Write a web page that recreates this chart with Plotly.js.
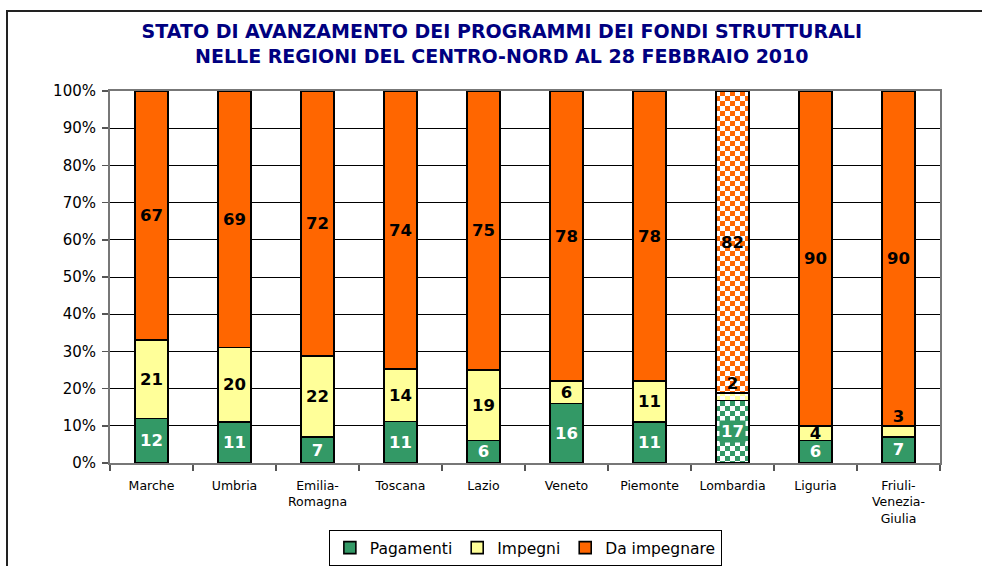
<!DOCTYPE html>
<html>
<head>
<meta charset="utf-8">
<script src="https://cdn.plot.ly/plotly-3.0.1.min.js"></script>
<style>
  html, body { margin: 0; padding: 0; background: #fff; }
  #wrap { position: relative; width: 982px; height: 566px; }
  #frame { position: absolute; left: 6px; top: 10px; width: 976px; height: 556px;
           border-left: 2px solid #222; border-top: 2px solid #222; box-sizing: border-box; pointer-events: none; z-index: 5; }
  #chart { position: absolute; left: 0; top: 0; width: 982px; height: 566px; }
</style>
</head>
<body>
<div id="wrap">
  <div id="chart"></div>
  <div id="frame"></div>
</div>
<script>
const regioni = ['Marche', 'Umbria', 'Emilia-<br>Romagna', 'Toscana', 'Lazio', 'Veneto', 'Piemonte', 'Lombardia', 'Liguria', 'Friuli-<br>Venezia-<br>Giulia'];
const pagamenti = [12, 11, 7, 11, 6, 16, 11, 17, 6, 7];
const impegni = [21, 20, 22, 14, 19, 6, 11, 2, 4, 3];
const daImpegnare = [67, 69, 72, 74, 75, 78, 78, 82, 90, 90];
const retinato = [false, false, false, false, false, false, false, true, false, false];
const yTicks = [0, 10, 20, 30, 40, 50, 60, 70, 80, 90, 100];

const FONT = 'DejaVu Sans, Verdana, sans-serif';
const SMALL = 4; // labels of segments smaller than this sit above the segment
const G = '#339966';

function serie(name, values, color, textColor, labels) {
  return {
    type: 'bar', name: name, x: regioni, y: values,
    text: labels, textposition: 'inside', insidetextanchor: 'middle',
    textangle: 0, constraintext: 'none', cliponaxis: false,
    textfont: { family: FONT, size: 16.5, color: textColor, weight: 'bold' },
    marker: {
      color: color,
      line: { color: '#000', width: 1.6 },
      pattern: {
        shape: retinato.map(r => r ? '+' : ''),
        fgcolor: color, bgcolor: '#ffffff', size: 10, solidity: 0.5, fillmode: 'replace'
      }
    },
    hoverinfo: 'skip'
  };
}

const totals = regioni.map((_, i) => pagamenti[i] + impegni[i] + daImpegnare[i]);
const topImpegni = regioni.map((_, i) => (pagamenti[i] + impegni[i]) / totals[i] * 100);

const data = [
  serie('Pagamenti', pagamenti, G, '#ffffff', pagamenti.map((v, i) => retinato[i] ? '' : String(v))),
  serie('Impegni', impegni, '#ffff99', '#000000', impegni.map(v => v < SMALL ? '' : String(v))),
  serie('Da impegnare', daImpegnare, '#ff6600', '#000000', daImpegnare.map(String)),
  {
    type: 'scatter', mode: 'text', x: regioni, y: topImpegni,
    text: impegni.map(v => v < SMALL ? String(v) : ''),
    textposition: 'top center', cliponaxis: false, showlegend: false, hoverinfo: 'skip',
    textfont: { family: FONT, size: 16.5, color: '#000', weight: 'bold' }
  }
];

// labels on a solid box for the hatched (checkerboard) green segment
const boxedLabels = regioni.map((r, i) => retinato[i] ? {
  x: r, y: pagamenti[i] / totals[i] * 50, xref: 'x', yref: 'y',
  text: String(pagamenti[i]), showarrow: false, bgcolor: G, borderpad: 1,
  font: { family: FONT, size: 16.5, color: '#ffffff', weight: 'bold' }
} : null).filter(a => a);

const layout = {
  width: 982, height: 566,
  margin: { l: 110, r: 42, t: 91, b: 103 },
  paper_bgcolor: '#ffffff', plot_bgcolor: '#ffffff',
  barmode: 'stack', barnorm: 'percent', bargap: 0.6,
  font: { family: FONT, color: '#000' },
  annotations: boxedLabels,
  title: {
    text: 'STATO DI AVANZAMENTO DEI PROGRAMMI DEI FONDI STRUTTURALI<br>NELLE REGIONI DEL CENTRO-NORD AL 28 FEBBRAIO 2010',
    font: { family: FONT, size: 19, color: '#000080', weight: 'bold' },
    x: 0.511, xref: 'container', xanchor: 'center',
    y: 1 - 38 / 566, yref: 'container', yanchor: 'top'
  },
  xaxis: {
    type: 'category', tickfont: { family: FONT, size: 12.5, color: '#000' },
    ticks: 'outside', tickson: 'boundaries', ticklen: 6, tickcolor: '#555', tickwidth: 1.5,
    ticklabelstandoff: 10,
    showline: true, linecolor: '#777', linewidth: 2, mirror: true,
    showgrid: false, fixedrange: true
  },
  yaxis: {
    range: [0, 100], tickvals: yTicks, ticktext: yTicks.map(v => v + '%'),
    tickfont: { family: FONT, size: 15, color: '#000' },
    ticks: 'outside', ticklen: 6, tickcolor: '#555', tickwidth: 1.5,
    ticklabelstandoff: 3,
    showline: true, linecolor: '#777', linewidth: 2, mirror: true,
    showgrid: true, gridcolor: '#000', gridwidth: 1, zeroline: false, fixedrange: true
  },
  showlegend: true,
  legend: {
    orientation: 'h', x: 0.535, xanchor: 'center', xref: 'container',
    y: 18 / 566, yref: 'container', yanchor: 'middle',
    font: { family: FONT, size: 15.5, color: '#000' },
    bordercolor: '#000', borderwidth: 1, bgcolor: '#fff',
    itemwidth: 30, tracegroupgap: 0, traceorder: 'normal'
  }
};

Plotly.newPlot('chart', data, layout, { staticPlot: true, displayModeBar: false }).then(function () {
  // turn the '+' pattern into a checkerboard like the original
  document.querySelectorAll('pattern').forEach(function (p) {
    const s = parseFloat(p.getAttribute('width')) || 10;
    const h = s / 2;
    const path = p.querySelector('path');
    if (!path) return;
    const col = path.style.stroke || path.getAttribute('stroke') || path.style.fill;
    path.setAttribute('d', 'M0,0H' + h + 'V' + h + 'H0Z M' + h + ',' + h + 'H' + s + 'V' + s + 'H' + h + 'Z');
    path.style.fill = col;
    path.style.stroke = 'none';
    path.style.strokeWidth = '0';
  });
});
</script>
</body>
</html>
